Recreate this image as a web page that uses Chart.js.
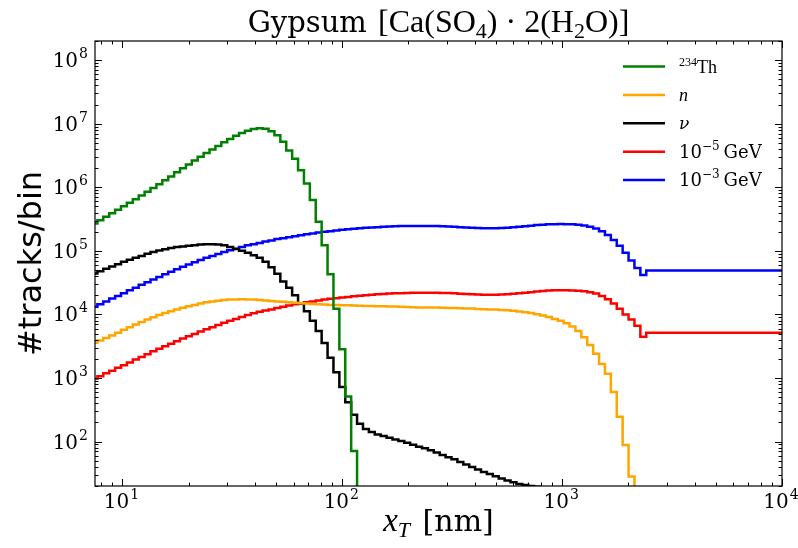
<!DOCTYPE html>
<html>
<head>
<meta charset="utf-8">
<script src="https://cdn.jsdelivr.net/npm/chart.js@4.4.1/dist/chart.umd.min.js"></script>
<style>
  html, body { margin: 0; padding: 0; background: #fff; }
  #wrap { width: 798px; height: 548px; }
</style>
</head>
<body>
<div id="wrap"><canvas id="chart" width="798" height="548"></canvas></div>
<script>
// histogram bins: 149 log-spaced bins from 1 nm to 1e4 nm, the plot shows bin 32 onwards
const nBins = 149;
const firstBin = 32;

// counts per bin (bin 32 ... bin 148)
const thorium = [
  2.69e5, 3.02e5, 3.43e5, 3.89e5, 4.42e5, 5.01e5, 5.69e5, 6.46e5, 7.41e5, 8.51e5,
  9.77e5, 1.12e6, 1.29e6, 1.48e6, 1.72e6, 2.00e6, 2.29e6, 2.63e6, 3.02e6, 3.47e6,
  3.94e6, 4.47e6, 5.13e6, 5.75e6, 6.46e6, 7.16e6, 7.76e6, 8.22e6, 8.51e6, 8.32e6,
  7.59e6, 6.61e6, 5.19e6, 3.80e6, 2.82e6, 1.86e6, 1.15e6, 6.31e5, 2.88e5, 1.23e5,
  4.27e4, 1.23e4, 2.82e3, 513, 71, 0, 0, 0, 0, 0,
  0, 0, 0, 0, 0, 0, 0, 0, 0, 0,
  0, 0, 0, 0, 0, 0, 0, 0, 0, 0,
  0, 0, 0, 0, 0, 0, 0, 0, 0, 0,
  0, 0, 0, 0, 0, 0, 0, 0, 0, 0,
  0, 0, 0, 0, 0, 0, 0, 0, 0, 0,
  0, 0, 0, 0, 0, 0, 0, 0, 0, 0,
  0, 0, 0, 0, 0, 0, 0
];
const neutrons = [
  3.59e3, 3.89e3, 4.27e3, 4.68e3, 5.13e3, 5.75e3, 6.31e3, 6.92e3, 7.59e3, 8.32e3,
  9.02e3, 9.77e3, 1.05e4, 1.12e4, 1.20e4, 1.27e4, 1.35e4, 1.41e4, 1.48e4, 1.55e4,
  1.60e4, 1.64e4, 1.68e4, 1.71e4, 1.72e4, 1.73e4, 1.72e4, 1.71e4, 1.68e4, 1.66e4,
  1.63e4, 1.60e4, 1.58e4, 1.55e4, 1.52e4, 1.50e4, 1.48e4, 1.46e4, 1.45e4, 1.43e4,
  1.41e4, 1.41e4, 1.40e4, 1.39e4, 1.38e4, 1.37e4, 1.36e4, 1.36e4, 1.35e4, 1.34e4,
  1.33e4, 1.33e4, 1.32e4, 1.31e4, 1.30e4, 1.29e4, 1.29e4, 1.28e4, 1.28e4, 1.27e4,
  1.26e4, 1.26e4, 1.25e4, 1.24e4, 1.24e4, 1.22e4, 1.21e4, 1.20e4, 1.19e4, 1.17e4,
  1.16e4, 1.14e4, 1.11e4, 1.08e4, 1.05e4, 1.01e4, 9.66e3, 9.12e3, 8.51e3, 7.94e3,
  7.24e3, 6.46e3, 5.50e3, 4.37e3, 3.31e3, 2.40e3, 1.66e3, 1.17e3, 603, 245,
  88.1, 28.2, 0, 0, 0, 0, 0, 0, 0, 0,
  0, 0, 0, 0, 0, 0, 0, 0, 0, 0,
  0, 0, 0, 0, 0, 0, 0
];
const neutrinos = [
  4.42e4, 4.79e4, 5.25e4, 5.69e4, 6.17e4, 6.76e4, 7.24e4, 7.76e4, 8.32e4, 9.02e4,
  9.55e4, 1.01e5, 1.06e5, 1.11e5, 1.15e5, 1.17e5, 1.20e5, 1.23e5, 1.26e5, 1.27e5,
  1.27e5, 1.26e5, 1.22e5, 1.15e5, 1.07e5, 1.00e5, 9.33e4, 8.51e4, 7.76e4, 6.76e4,
  5.50e4, 4.37e4, 3.31e4, 2.63e4, 2.00e4, 1.48e4, 1.12e4, 7.94e3, 5.50e3, 3.55e3,
  2.09e3, 1.23e3, 724, 417, 263, 191, 158, 141, 129, 122,
  115, 108, 102, 95.5, 89.1, 83.2, 78.5, 73.3, 67.6, 61.7,
  56.9, 52.5, 47.9, 43.7, 39.8, 36.3, 33.1, 30.9, 28.5, 26.3,
  24.5, 22.9, 21.6, 20.7, 20.0, 19.5, 19.1, 18.8, 18.6, 18.2,
  17.8, 16.6, 14.1, 10, 0, 0, 0, 0, 0, 0,
  0, 0, 0, 0, 0, 0, 0, 0, 0, 0,
  0, 0, 0, 0, 0, 0, 0, 0, 0, 0,
  0, 0, 0, 0, 0, 0, 0
];
const dm1e5 = [
  977, 1.07e3, 1.19e3, 1.30e3, 1.45e3, 1.58e3, 1.76e3, 1.95e3, 2.14e3, 2.37e3,
  2.63e3, 2.88e3, 3.16e3, 3.47e3, 3.80e3, 4.17e3, 4.52e3, 4.90e3, 5.37e3, 5.82e3,
  6.31e3, 6.84e3, 7.41e3, 7.94e3, 8.51e3, 9.12e3, 9.77e3, 1.04e4, 1.10e4, 1.15e4,
  1.20e4, 1.26e4, 1.32e4, 1.38e4, 1.45e4, 1.50e4, 1.55e4, 1.60e4, 1.66e4, 1.72e4,
  1.76e4, 1.80e4, 1.84e4, 1.88e4, 1.93e4, 1.97e4, 2.01e4, 2.04e4, 2.07e4, 2.10e4,
  2.13e4, 2.15e4, 2.16e4, 2.18e4, 2.19e4, 2.19e4, 2.20e4, 2.20e4, 2.19e4, 2.18e4,
  2.17e4, 2.15e4, 2.12e4, 2.10e4, 2.07e4, 2.06e4, 2.04e4, 2.04e4, 2.04e4, 2.06e4,
  2.08e4, 2.11e4, 2.15e4, 2.20e4, 2.24e4, 2.29e4, 2.33e4, 2.37e4, 2.39e4, 2.40e4,
  2.40e4, 2.38e4, 2.36e4, 2.32e4, 2.24e4, 2.14e4, 1.95e4, 1.74e4, 1.48e4, 1.23e4,
  1.00e4, 8.32e3, 6.61e3, 4.47e3, 5.13e3, 5.13e3, 5.13e3, 5.13e3, 5.13e3, 5.13e3,
  5.13e3, 5.13e3, 5.13e3, 5.13e3, 5.13e3, 5.13e3, 5.13e3, 5.13e3, 5.13e3, 5.13e3,
  5.13e3, 5.13e3, 5.13e3, 5.13e3, 5.13e3, 5.13e3, 5.13e3
];
const dm1e3 = [
  1.32e4, 1.45e4, 1.60e4, 1.78e4, 1.95e4, 2.16e4, 2.40e4, 2.63e4, 2.92e4, 3.20e4,
  3.55e4, 3.89e4, 4.27e4, 4.68e4, 5.13e4, 5.62e4, 6.10e4, 6.61e4, 7.16e4, 7.76e4,
  8.32e4, 8.91e4, 9.55e4, 1.02e5, 1.08e5, 1.15e5, 1.22e5, 1.27e5, 1.33e5, 1.40e5,
  1.46e5, 1.53e5, 1.58e5, 1.64e5, 1.70e5, 1.76e5, 1.82e5, 1.88e5, 1.95e5, 2.00e5,
  2.04e5, 2.09e5, 2.14e5, 2.19e5, 2.23e5, 2.26e5, 2.30e5, 2.33e5, 2.36e5, 2.39e5,
  2.41e5, 2.43e5, 2.45e5, 2.46e5, 2.47e5, 2.47e5, 2.47e5, 2.47e5, 2.45e5, 2.44e5,
  2.42e5, 2.39e5, 2.36e5, 2.33e5, 2.31e5, 2.29e5, 2.27e5, 2.26e5, 2.27e5, 2.29e5,
  2.31e5, 2.35e5, 2.39e5, 2.44e5, 2.49e5, 2.54e5, 2.58e5, 2.61e5, 2.63e5, 2.64e5,
  2.63e5, 2.61e5, 2.57e5, 2.51e5, 2.40e5, 2.24e5, 2.04e5, 1.78e5, 1.48e5, 1.20e5,
  9.33e4, 7.08e4, 5.37e4, 4.17e4, 4.90e4, 4.90e4, 4.90e4, 4.90e4, 4.90e4, 4.90e4,
  4.90e4, 4.90e4, 4.90e4, 4.90e4, 4.90e4, 4.90e4, 4.90e4, 4.90e4, 4.90e4, 4.90e4,
  4.90e4, 4.90e4, 4.90e4, 4.90e4, 4.90e4, 4.90e4, 4.90e4
];

const xTickExps = [1, 2, 3, 4];
const yTickExps = [2, 3, 4, 5, 6, 7, 8];

// bin edges
const edges = [];
for (let k = firstBin; k <= nBins; k++) edges.push(Math.pow(10, 4 * k / nBins));

// step points on the left edges, plus the closing right edge; empty bins fall off the bottom
function stepPoints(vals) {
  const pts = vals.map((v, i) => ({ x: edges[i], y: v > 0 ? v : 1e-3 }));
  pts.push({ x: edges[vals.length], y: pts[pts.length - 1].y });
  return pts;
}

const series = [
  { key: 'th', data: thorium, color: '#008000' },
  { key: 'n', data: neutrons, color: '#ffa500' },
  { key: 'nu', data: neutrinos, color: '#000000' },
  { key: 'dm5', data: dm1e5, color: '#ff0000' },
  { key: 'dm3', data: dm1e3, color: '#0000ff' }
];

const SERIF = '"DejaVu Serif", serif';
const MATH = '"Liberation Serif", "DejaVu Serif", serif';

function powLabel(ctx, exp, x, y, align) {
  ctx.font = '20px ' + SERIF;
  const wb = ctx.measureText('10').width;
  ctx.font = '14px ' + SERIF;
  const we = ctx.measureText(exp).width;
  const total = wb + 1 + we;
  let x0 = x;
  if (align === 'right') x0 = x - total;
  if (align === 'center') x0 = x - total / 2;
  ctx.font = '20px ' + SERIF;
  ctx.fillText('10', x0, y);
  ctx.font = '14px ' + SERIF;
  ctx.fillText(exp, x0 + wb + 1, y - 9);
}

// draws a run of [text, font, dy, gapAfter] pieces starting at x, returns the width
function runText(ctx, pieces, x, y, measureOnly) {
  let cx = x;
  pieces.forEach(p => {
    ctx.font = p[1];
    if (!measureOnly) ctx.fillText(p[0], cx, y + (p[2] || 0));
    cx += ctx.measureText(p[0]).width + (p[3] || 0);
  });
  return cx - x;
}

const decorations = {
  id: 'decorations',
  afterDatasetsDraw(chart) {
    const ctx = chart.ctx;
    const a = chart.chartArea;
    const xs = chart.scales.x, ys = chart.scales.y;
    ctx.save();
    ctx.strokeStyle = '#000';
    ctx.fillStyle = '#000';
    ctx.lineWidth = 1;

    // inward ticks on all four sides
    const tick = (px, horiz, len) => {
      ctx.beginPath();
      if (horiz) {
        ctx.moveTo(px, a.bottom); ctx.lineTo(px, a.bottom - len);
        ctx.moveTo(px, a.top); ctx.lineTo(px, a.top + len);
      } else {
        ctx.moveTo(a.left, px); ctx.lineTo(a.left + len, px);
        ctx.moveTo(a.right, px); ctx.lineTo(a.right - len, px);
      }
      ctx.stroke();
    };
    for (let d = 0; d <= 4; d++) {
      for (let m = 1; m <= 9; m++) {
        const v = m * Math.pow(10, d);
        if (v < xs.min || v > xs.max) continue;
        tick(Math.round(xs.getPixelForValue(v)) + 0.5, true, m === 1 ? 7 : 3.5);
      }
    }
    for (let d = 1; d <= 8; d++) {
      for (let m = 1; m <= 9; m++) {
        const v = m * Math.pow(10, d);
        if (v < ys.min || v > ys.max) continue;
        tick(Math.round(ys.getPixelForValue(v)) + 0.5, false, m === 1 ? 7 : 3.5);
      }
    }

    // frame
    ctx.lineWidth = 1.2;
    ctx.strokeRect(a.left, a.top, a.right - a.left, a.bottom - a.top);

    // tick labels
    ctx.textBaseline = 'alphabetic';
    ctx.textAlign = 'left';
    xTickExps.forEach(e => powLabel(ctx, String(e), xs.getPixelForValue(Math.pow(10, e)) - 1, 508, 'center'));
    yTickExps.forEach(e => powLabel(ctx, String(e), 88, ys.getPixelForValue(Math.pow(10, e)) + 7, 'right'));

    // title
    const title = [
      ['Gypsum ', '29px ' + SERIF, 0, 2],
      ['[Ca(SO', '32px ' + MATH, 0],
      ['4', '22px ' + MATH, 6],
      [') \u00b7 2(H', '32px ' + MATH, 0],
      ['2', '22px ' + MATH, 6],
      ['O)]', '32px ' + MATH, 0]
    ];
    const tw = runText(ctx, title, 0, 0, true);
    runText(ctx, title, (a.left + a.right) / 2 - tw / 2, 32);

    // x axis label
    const xl = [
      ['x', 'italic 33px ' + MATH, 0],
      ['T', 'italic 22px ' + MATH, 6, 3],
      [' [nm]', '30px ' + SERIF, 0]
    ];
    const xw = runText(ctx, xl, 0, 0, true);
    runText(ctx, xl, (a.left + a.right) / 2 - xw / 2, 531);

    // y axis label
    ctx.save();
    ctx.translate(41, (a.top + a.bottom) / 2);
    ctx.rotate(-Math.PI / 2);
    ctx.textAlign = 'center';
    ctx.font = '32px "DejaVu Sans", sans-serif';
    ctx.fillText('#tracks/bin', 0, 0);
    ctx.restore();

    // legend
    const rows = [
      [['234', '12px ' + MATH, -7], ['Th', '18px ' + MATH, 0]],
      [['n', 'italic 18px ' + MATH, 0]],
      [['\u03bd', 'italic 17px ' + SERIF, 0]],
      [['10', '18px ' + SERIF, 0], ['\u22125', '12px ' + SERIF, -8, 4], ['GeV', '18px ' + SERIF, 0]],
      [['10', '18px ' + SERIF, 0], ['\u22123', '12px ' + SERIF, -8, 4], ['GeV', '18px ' + SERIF, 0]]
    ];
    rows.forEach((r, i) => {
      const y = 66.5 + i * 28.4;
      ctx.strokeStyle = series[i].color;
      ctx.lineWidth = 2.5;
      ctx.beginPath();
      ctx.moveTo(623, y); ctx.lineTo(665, y);
      ctx.stroke();
      ctx.fillStyle = '#000';
      runText(ctx, r, 679, y + 6);
    });
    ctx.restore();
  }
};

new Chart(document.getElementById('chart'), {
  type: 'line',
  data: {
    datasets: series.map(s => ({
      label: s.key,
      data: stepPoints(s.data),
      borderColor: s.color,
      borderWidth: 2.5,
      pointRadius: 0,
      fill: false,
      stepped: 'before',
      tension: 0
    }))
  },
  options: {
    responsive: false,
    animation: false,
    events: [],
    layout: { padding: { left: 95, right: 16, top: 41, bottom: 62 } },
    plugins: { legend: { display: false }, tooltip: { enabled: false }, title: { display: false } },
    scales: {
      x: { type: 'logarithmic', min: 7.5, max: 1e4, display: false },
      y: { type: 'logarithmic', min: 20, max: 2e8, display: false }
    }
  },
  plugins: [decorations]
});
</script>
</body>
</html>
